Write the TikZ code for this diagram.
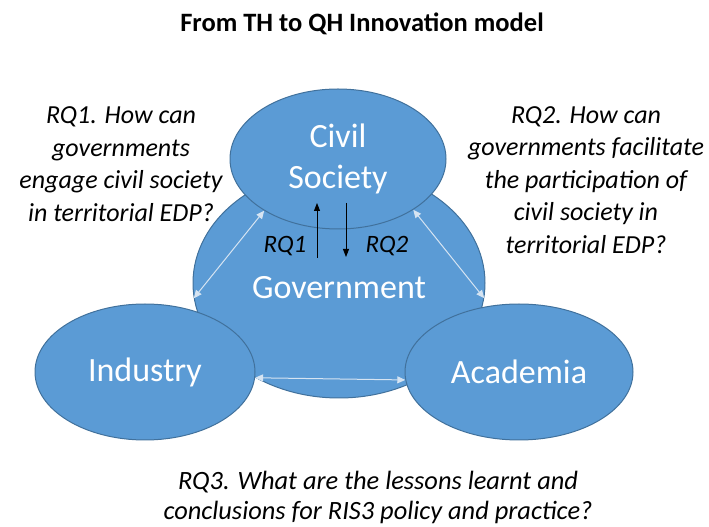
\documentclass[tikz,border=0pt]{standalone}
\usepackage{fontspec}
\setmainfont{Carlito}
\usetikzlibrary{arrows.meta,shapes.geometric}
\definecolor{helixfill}{HTML}{5B9BD5}
\definecolor{helixline}{HTML}{41719C}
\definecolor{linkcol}{HTML}{D6E4F2}
\tikzset{
  helix/.style={ellipse,draw=helixline,fill=helixfill,line width=1pt,inner sep=0pt,
    text=white,align=center,font=\fontsize{34}{41}\selectfont},
  question/.style={align=center,font=\fontsize{26}{32.5}\selectfont\itshape},
  link/.style={{Triangle[width=7pt,length=8pt]}-{Triangle[width=7pt,length=8pt]},draw=linkcol,line width=1pt},
  rqarrow/.style={-{Triangle[width=6pt,length=8pt]},line width=0.9pt}
}
\begin{document}
\begin{tikzpicture}[x=1pt,y=1pt]
	\useasboundingbox (0,0) rectangle (709,527);
	% title
	\node[font=\fontsize{26.5}{31}\selectfont\bfseries] (title) at (362,503) {From TH to QH Innovation model};
	% the four helices
	\node[helix,minimum width=292pt,minimum height=230pt] (gov) at (339,244) {};
	\node[text=white,font=\fontsize{34}{41}\selectfont] (govtext) at (339,239) {Government};
	\node[helix,minimum width=216pt,minimum height=140pt] (civil) at (338,368) {Civil\\Society};
	\node[helix,minimum width=220pt,minimum height=136pt] (ind) at (145,155) {Industry};
	\node[helix,minimum width=228pt,minimum height=136pt] (acad) at (519,155) {Academia};
	% links between helices
	\draw[link] (civil.215) -- (gov.186);
	\draw[link] (civil.326) -- (gov.354);
	\draw[link] (ind.-3) -- (acad.184);
	% RQ1 and RQ2
	\coordinate (up1) at (317,269);
	\coordinate (up2) at (317,324);
	\coordinate (dn1) at (346,324);
	\coordinate (dn2) at (346,270);
	\draw[rqarrow] (up1) -- (up2);
	\draw[rqarrow] (dn1) -- (dn2);
	\node[font=\fontsize{25}{30}\selectfont\itshape] (rq1) at (285,281) {RQ1};
	\node[font=\fontsize{25}{30}\selectfont\itshape] (rq2) at (387,281) {RQ2};
	% questions
	\node[question] (q1) at (121,363) {RQ1. How can\\governments\\engage civil society\\in territorial EDP?};
	\node[question] (q2) at (586,347) {RQ2. How can\\governments facilitate\\the participation of\\civil society in\\territorial EDP?};
	\node[question,font=\fontsize{26.4}{30.5}\selectfont\itshape] (q3) at (378,29.5) {RQ3. What are the lessons learnt and\\conclusions for RIS3 policy and practice?};
\end{tikzpicture}
\end{document}
